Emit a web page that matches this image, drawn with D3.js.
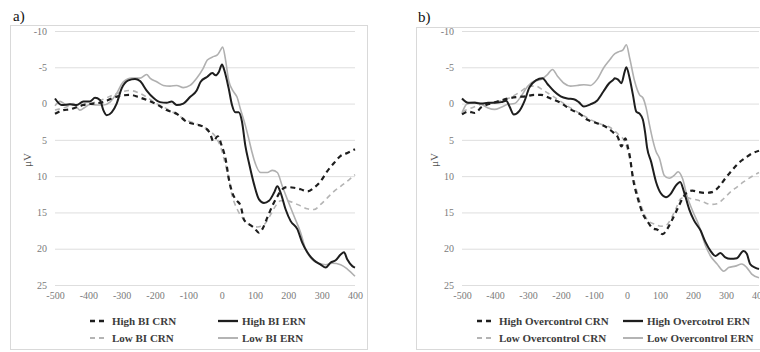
<!DOCTYPE html>
<html>
<head>
<meta charset="utf-8">
<script src="https://d3js.org/d3.v7.min.js"></script>
<style>
  body { margin: 0; background: #fff; }
  text { font-family: "Liberation Serif", "DejaVu Serif", serif; }
</style>
</head>
<body>
<script>
    // ---- data (ms, microvolts) ----
    var yTicks = [-10, -5, 0, 5, 10, 15, 20, 25]
    var xTicks = [-500, -400, -300, -200, -100, 0, 100, 200, 300, 400]

    var aLabels = ['High BI CRN', 'High BI ERN', 'Low BI CRN', 'Low BI ERN']
    var bLabels = ['High Overcontrol CRN', 'High Overcotrol ERN', 'Low Overcontrol CRN', 'Low Overcontrol ERN']

    var aHighCRN = [[-500,1.4],[-475,0.9],[-455,0.8],[-435,0.5],[-415,0.2],[-385,0],[-355,-0.2],[-325,-0.8],[-300,-1.1],[-275,-1.2],[-250,-0.9],[-225,-0.5],[-195,0.1],[-165,0.9],[-135,1.4],[-105,2.5],[-75,2.9],[-55,3.2],[-35,4.1],[-25,5.2],[-12,4.5],[0,5.8],[12,7.7],[22,10.5],[32,12.3],[42,13.2],[57,14.1],[67,16],[82,16.6],[97,17.1],[112,17.8],[122,17.3],[137,15.7],[152,14.1],[167,12.8],[182,11.8],[197,11.5],[217,11.6],[237,11.8],[257,12.1],[277,11.6],[297,10.7],[317,9.3],[337,8.2],[357,7.2],[377,6.8],[400,6.3]]
    var aHighERN = [[-500,-0.7],[-480,0.2],[-455,0.1],[-435,0.2],[-415,-0.3],[-395,-0.3],[-380,-0.8],[-365,-0.5],[-355,0.9],[-345,1.6],[-330,1.2],[-315,0],[-300,-2.1],[-280,-3.2],[-260,-3.4],[-245,-3.1],[-225,-1.8],[-205,-0.8],[-185,-0.2],[-165,-0.1],[-150,-0.3],[-135,0.2],[-115,0],[-95,-0.9],[-75,-1.8],[-63,-3.0],[-43,-3.7],[-28,-4.2],[-18,-3.9],[-8,-4.4],[1,-5.4],[8,-4.6],[21,-2.1],[31,0.2],[41,1.2],[51,1.2],[61,2.5],[71,5.8],[82,8.2],[97,11.1],[112,13.2],[127,13.7],[142,13.4],[157,12.3],[167,11.4],[177,12.3],[192,14.6],[207,16.2],[227,17.3],[242,19.2],[257,20.5],[277,21.6],[297,22.2],[312,22.6],[327,21.9],[342,21.6],[357,20.8],[367,20.5],[377,21.5],[392,22.4],[400,22.6]]
    var aLowCRN = [[-500,0.9],[-475,0.6],[-445,0.2],[-415,0.1],[-385,-0.1],[-355,-0.6],[-325,-1.2],[-300,-1.6],[-275,-1.8],[-250,-1.5],[-225,-0.9],[-195,0],[-165,0.7],[-135,1.5],[-105,2.3],[-75,2.8],[-45,3.5],[-18,4.6],[-3,6.0],[8,7.8],[17,9.5],[32,12.8],[47,14.6],[67,16],[87,16.8],[107,17],[127,16.7],[147,15.3],[162,14.1],[177,13.4],[197,13.4],[217,13.7],[237,14.1],[257,14.5],[277,14.6],[297,13.9],[317,13.0],[337,12.1],[357,11.4],[382,10.5],[400,9.8]]
    var aLowERN = [[-500,0.3],[-485,-0.3],[-465,0.2],[-445,0],[-425,0.9],[-410,0.5],[-395,0.1],[-375,0.2],[-355,0.2],[-335,-0.2],[-315,-1.4],[-295,-3.0],[-270,-3.5],[-245,-3.5],[-225,-4.0],[-215,-3.5],[-195,-3.0],[-175,-2.5],[-155,-2.4],[-135,-2.5],[-115,-2.2],[-95,-2.5],[-75,-3.5],[-55,-4.9],[-43,-6.0],[-23,-6.5],[-13,-6.7],[-3,-7.4],[3,-7.8],[11,-6.2],[21,-3.2],[36,-1.6],[46,-0.9],[56,0.7],[71,3.0],[81,4.8],[91,6.7],[97,7.7],[117,9.5],[137,9.5],[152,9.2],[167,9.5],[182,11.4],[197,13.2],[217,15.5],[237,17.8],[252,20.1],[272,21.5],[292,22.0],[312,22.2],[332,22.0],[357,22.2],[377,22.8],[400,23.8]]

    var bHighCRN = [[-500,1.5],[-481,1.1],[-461,1.3],[-441,0.5],[-421,0.1],[-391,-0.3],[-361,-0.7],[-331,-0.9],[-306,-1.0],[-281,-1.2],[-261,-1.2],[-231,-0.7],[-201,-0.1],[-171,0.8],[-141,1.5],[-121,2.2],[-91,2.7],[-61,3.3],[-41,4.0],[-27,4.7],[-17,5.9],[-5,4.8],[3,6.1],[8,7.1],[18,10.3],[33,13.1],[48,15.2],[63,16.3],[78,17.2],[93,17.4],[108,18.0],[123,17.2],[138,15.9],[153,14.5],[168,13.1],[183,12.2],[198,12.0],[218,12.2],[238,12.3],[258,12.2],[278,11.5],[298,10.3],[318,9.2],[338,8.2],[358,7.5],[378,6.9],[400,6.5]]
    var bHighERN = [[-500,-0.7],[-481,-0.1],[-461,-0.1],[-441,0],[-421,-0.1],[-401,-0.1],[-381,-0.2],[-366,-0.4],[-356,0.4],[-343,1.5],[-326,1.0],[-311,-0.3],[-296,-2.2],[-276,-3.2],[-256,-3.5],[-241,-2.7],[-221,-1.7],[-201,-1.0],[-181,-0.7],[-161,-0.6],[-146,-0.2],[-131,0.4],[-111,0.1],[-91,-0.4],[-71,-1.7],[-56,-2.7],[-41,-3.3],[-37,-3.5],[-27,-3.3],[-17,-2.8],[-7,-4.4],[-2,-5.0],[8,-3.5],[18,-1.2],[28,1.1],[38,1.4],[48,2.2],[55,4.0],[61,6.1],[73,8.0],[88,10.8],[103,12.4],[118,12.9],[133,12.4],[148,11.3],[161,10.8],[173,12.2],[188,14.5],[203,16.1],[223,17.5],[238,19.1],[253,20.3],[268,21.0],[283,20.6],[298,21.2],[313,21.4],[333,21.3],[353,20.3],[363,20.7],[373,22.1],[388,22.6],[400,22.8]]
    var bLowCRN = [[-500,1.1],[-471,0.6],[-441,0.1],[-411,-0.1],[-381,-0.4],[-351,-0.9],[-321,-1.7],[-296,-2.4],[-276,-2.4],[-256,-1.9],[-231,-1.2],[-201,-0.3],[-171,0.6],[-141,1.4],[-111,2.2],[-81,2.8],[-51,3.3],[-25,4.3],[-7,5.2],[3,6.6],[18,9.9],[33,12.6],[48,14.7],[63,16.1],[83,16.6],[103,16.9],[118,16.8],[133,15.9],[148,14.5],[163,13.1],[178,12.9],[193,13.1],[213,13.3],[233,13.6],[253,13.9],[273,13.8],[293,13.1],[313,12.2],[333,11.5],[353,10.8],[373,10.2],[400,9.5]]
    var bLowERN = [[-500,1.3],[-486,0.1],[-461,-0.2],[-441,0.1],[-421,0.6],[-401,0.8],[-381,0.5],[-361,0.1],[-341,0],[-321,-1.0],[-301,-2.4],[-281,-3.1],[-261,-3.3],[-241,-4.0],[-226,-4.7],[-211,-3.8],[-191,-2.8],[-171,-2.4],[-151,-2.5],[-131,-2.6],[-111,-2.5],[-91,-3.3],[-71,-4.9],[-51,-6.1],[-41,-6.7],[-27,-7.1],[-12,-7.4],[-2,-8.1],[8,-6.3],[23,-3.1],[38,-1.2],[48,-0.8],[58,0.6],[68,2.9],[78,5.0],[88,6.6],[98,7.5],[113,9.9],[128,10.3],[143,9.9],[155,9.4],[168,10.3],[183,12.9],[198,14.7],[218,16.8],[238,19.6],[253,21.0],[273,22.1],[293,23.1],[308,22.6],[328,22.4],[348,22.1],[363,22.6],[378,23.5],[400,24.0]]

    // ---- styles for the four series: high CRN, high ERN, low CRN, low ERN ----
    var styles = [
        {color: '#1e1e1e', width: 2.2, dash: '5,4'},
        {color: '#1e1e1e', width: 2, dash: null},
        {color: '#b4b4b4', width: 1.6, dash: '5,4'},
        {color: '#b0b0b0', width: 1.6, dash: null}
    ]

    var width = 760, height = 352
    var svg = d3.select('body').append('svg').attr('width', width).attr('height', height)
    var plain = function(d) { return String(d) }   // keep ascii hyphen like the original

    function panel(p) {
        var g = svg.append('g')
        g.append('rect').attr('x', p.box[0]).attr('y', p.box[1]).attr('width', p.box[2]).attr('height', p.box[3])
            .attr('fill', 'none').attr('stroke', '#d9d9d9').attr('stroke-width', 1)

        g.append('text').attr('x', p.tag[0]).attr('y', p.tag[1]).text(p.name)
            .attr('font-size', 15).attr('fill', '#111')

        var x = d3.scaleLinear().domain([-500, 400]).range(p.xr)
        var y = d3.scaleLinear().domain([-10, 25]).range([31, 285])

        var ya = g.append('g').attr('transform', `translate(${p.xr[0]},0)`)
            .call(d3.axisLeft(y).tickValues(yTicks).tickFormat(plain).tickSize(-(p.xr[1] - p.xr[0])).tickPadding(8))
        ya.select('.domain').remove()
        ya.selectAll('line').attr('stroke', '#dedede')
        ya.selectAll('text').attr('fill', '#7a7a7a').attr('font-size', 10)

        var xa = g.append('g').attr('transform', 'translate(0,285)')
            .call(d3.axisBottom(x).tickValues(xTicks).tickFormat(plain).tickSize(0).tickPadding(7))
        xa.select('.domain').remove()
        xa.selectAll('text').attr('fill', '#7a7a7a').attr('font-size', 10)

        g.append('text').attr('transform', `translate(${p.unitX},${p.unitY}) rotate(-90)`)
            .attr('text-anchor', 'middle').attr('font-size', 11).attr('fill', '#555').text('μV')

        var line = d3.line().x(function(d){return x(d[0])}).y(function(d){return y(d[1])}).curve(d3.curveMonotoneX)
        // gray first so black sits on top
        var order = [3, 2, 1, 0]
        order.forEach(function(i) {
            g.append('path').datum(p.series[i]).attr('d', line).attr('fill', 'none')
                .attr('stroke', styles[i].color).attr('stroke-width', styles[i].width)
                .attr('stroke-dasharray', styles[i].dash).attr('stroke-linejoin', 'round')
        })

        // legend
        p.labels.forEach(function(lab, i) {
            var col = i % 2, row = Math.floor(i / 2)
            var lx = p.legX[col], ly = row == 0 ? 321 : 338
            g.append('line').attr('x1', lx).attr('x2', lx + p.legLen[col]).attr('y1', ly).attr('y2', ly)
                .attr('stroke', styles[i].color).attr('stroke-width', styles[i].width + 0.3)
                .attr('stroke-dasharray', styles[i].dash)
            g.append('text').attr('x', lx + p.legLen[col] + 4).attr('y', ly + 4).text(lab)
                .attr('font-size', 11).attr('font-weight', 'bold').attr('fill', '#3c3c3c')
        })
    }

    panel({name: 'a)', tag: [13, 21], box: [10.5, 25.5, 357, 324], xr: [55, 355], unitX: 31, unitY: 160,
           series: [aHighCRN, aHighERN, aLowCRN, aLowERN], labels: aLabels,
           legX: [90, 218], legLen: [18, 20]})
    panel({name: 'b)', tag: [418, 22], box: [416.5, 27.5, 360, 322], xr: [462, 759], unitX: 438, unitY: 160,
           series: [bHighCRN, bHighERN, bLowCRN, bLowERN], labels: bLabels,
           legX: [477, 623], legLen: [18, 20]})
</script>
</body>
</html>
